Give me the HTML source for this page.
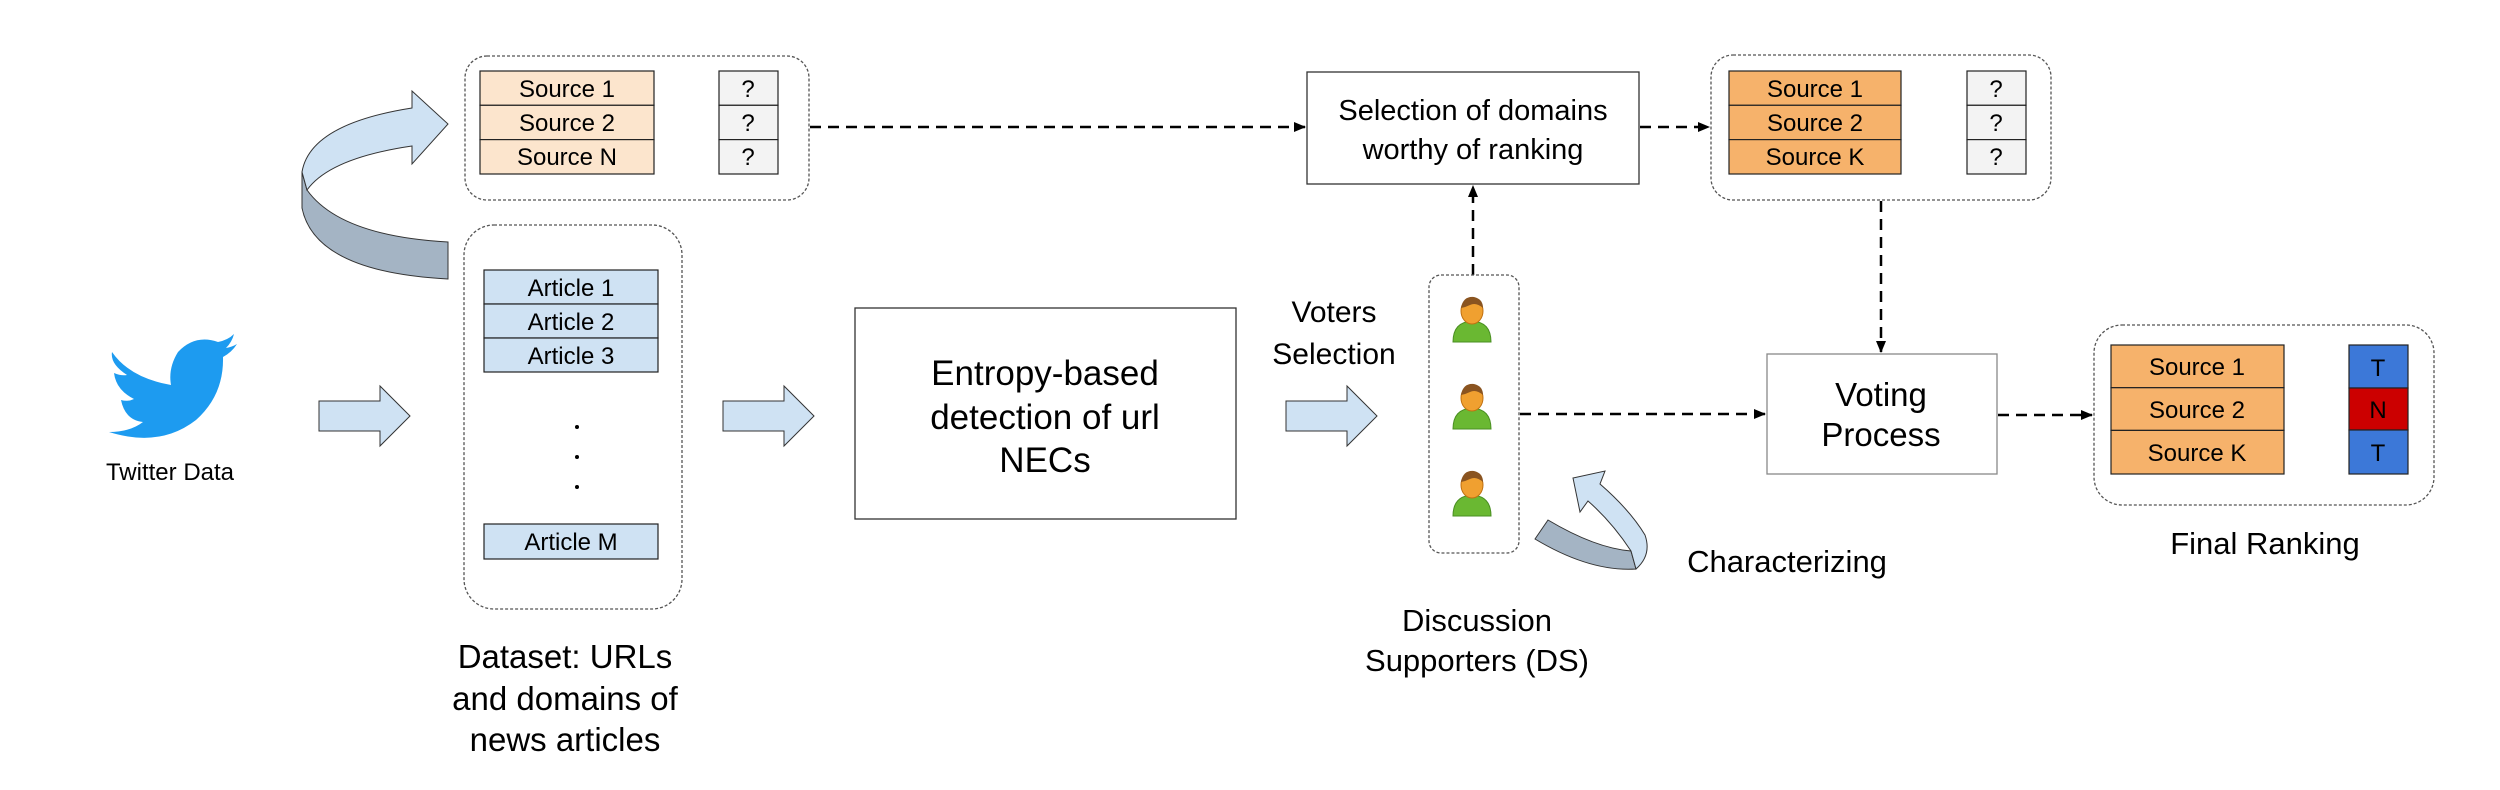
<!DOCTYPE html>
<html><head><meta charset="utf-8"><style>
html,body{margin:0;padding:0;background:#fff}
svg{display:block}
text{font-family:"Liberation Sans",Arial,sans-serif;fill:#000}
</style></head><body>
<svg width="2500" height="790" viewBox="0 0 2500 790" xmlns="http://www.w3.org/2000/svg">
<defs>
<marker id="ah" markerWidth="12" markerHeight="10" refX="11" refY="5" orient="auto" markerUnits="userSpaceOnUse">
<path d="M0,0 L12,5 L0,10 Z" fill="#000"/></marker>
<g id="person">
<path d="M-19,22 Q-19,2 0,1 Q19,2 19,22 Z" fill="#6ab832" stroke="#4a8f22" stroke-width="1"/>
<ellipse cx="0" cy="-9" rx="11" ry="13" fill="#f0a030" stroke="#c07010" stroke-width="1"/>
<path d="M-11,-12 Q-9,-24 2,-23 Q11,-21 11,-12 Q4,-18 -2,-15 Q-6,-13 -11,-12 Z" fill="#8a5420"/>
</g>
</defs>

<!-- Twitter bird -->
<path d="M112,352 Q130,378 171,385 Q168,368 178,352 Q195,334 218,342 Q228,340 234,334 Q232,342 226,348 Q232,347 237,344 Q232,352 223,357 Q224,395 196,420 Q160,448 109,432 Q130,432 143,422 Q125,420 121,400 Q128,402 134,399 Q116,390 114,373 Q121,376 127,375 Q110,364 112,352 Z" fill="#1d9bf0"/>
<text x="170" y="480" font-size="24" text-anchor="middle">Twitter Data</text>

<!-- block arrows -->
<path d="M319,401 L380,401 L380,386 L410,416 L380,446 L380,431 L319,431 Z" fill="#cfe2f3" stroke="#333" stroke-width="1"/>
<path d="M723,401 L784,401 L784,386 L814,416 L784,446 L784,431 L723,431 Z" fill="#cfe2f3" stroke="#333" stroke-width="1"/>
<path d="M1286,401 L1347,401 L1347,386 L1377,416 L1347,446 L1347,431 L1286,431 Z" fill="#cfe2f3" stroke="#333" stroke-width="1"/>

<!-- big curved arrow -->
<path d="M448,242 Q340,236 307,190 L302,172 L302,208 Q315,272 448,279 Z" fill="#a4b4c4" stroke="#333" stroke-width="1"/>
<path d="M302,172 Q310,124 412,108 L412,91 L448,124 L412,164 L412,146 Q330,158 307,190 Z" fill="#cfe2f3" stroke="#333" stroke-width="1"/>

<!-- top-left container -->
<rect x="465" y="56" width="344" height="144" rx="22" fill="none" stroke="#555" stroke-width="1.3" stroke-dasharray="3,2"/>
<g stroke="#222" stroke-width="1.2">
<rect x="480" y="71" width="174" height="34.3" fill="#fce5cd"/>
<rect x="480" y="105.3" width="174" height="34.3" fill="#fce5cd"/>
<rect x="480" y="139.6" width="174" height="34.4" fill="#fce5cd"/>
<rect x="719" y="71" width="59" height="34.3" fill="#f3f3f3"/>
<rect x="719" y="105.3" width="59" height="34.3" fill="#f3f3f3"/>
<rect x="719" y="139.6" width="59" height="34.4" fill="#f3f3f3"/>
</g>
<g font-size="24" text-anchor="middle">
<text x="567" y="97">Source 1</text><text x="567" y="131">Source 2</text><text x="567" y="165">Source N</text>
<text x="748" y="97">?</text><text x="748" y="131">?</text><text x="748" y="165">?</text>
</g>

<!-- articles container -->
<rect x="464" y="225" width="218" height="384" rx="30" fill="none" stroke="#555" stroke-width="1.3" stroke-dasharray="3,2"/>
<g stroke="#222" stroke-width="1.2" fill="#cfe2f3">
<rect x="484" y="270" width="174" height="34"/>
<rect x="484" y="304" width="174" height="34"/>
<rect x="484" y="338" width="174" height="34"/>
<rect x="484" y="524" width="174" height="35"/>
</g>
<g font-size="24" text-anchor="middle">
<text x="571" y="296">Article 1</text><text x="571" y="330">Article 2</text><text x="571" y="364">Article 3</text>
<text x="571" y="550">Article M</text>
</g>
<circle cx="577" cy="427" r="2" fill="#000"/><circle cx="577" cy="457" r="2" fill="#000"/><circle cx="577" cy="487" r="2" fill="#000"/>
<g font-size="33" text-anchor="middle">
<text x="565" y="668">Dataset: URLs</text><text x="565" y="710">and domains of</text><text x="565" y="751">news articles</text>
</g>

<!-- entropy box -->
<rect x="855" y="308" width="381" height="211" fill="#fff" stroke="#333" stroke-width="1.3"/>
<g font-size="35" text-anchor="middle">
<text x="1045" y="385">Entropy-based</text><text x="1045" y="429">detection of url</text><text x="1045" y="472">NECs</text>
</g>
<g font-size="30" text-anchor="middle"><text x="1334" y="322">Voters</text><text x="1334" y="364">Selection</text></g>

<!-- selection box -->
<rect x="1307" y="72" width="332" height="112" fill="#fff" stroke="#333" stroke-width="1.3"/>
<g font-size="29" text-anchor="middle"><text x="1473" y="120">Selection of domains</text><text x="1473" y="159">worthy of ranking</text></g>

<!-- dashed connectors -->
<g stroke="#000" stroke-width="2.5" stroke-dasharray="11,7" fill="none">
<line x1="810" y1="127" x2="1305" y2="127" marker-end="url(#ah)"/>
<line x1="1640" y1="127" x2="1709" y2="127" marker-end="url(#ah)"/>
<line x1="1473" y1="275" x2="1473" y2="186" marker-end="url(#ah)"/>
<line x1="1881" y1="201" x2="1881" y2="352" marker-end="url(#ah)"/>
<line x1="1520" y1="414" x2="1765" y2="414" marker-end="url(#ah)"/>
<line x1="1998" y1="415" x2="2092" y2="415" marker-end="url(#ah)"/>
</g>

<!-- DS container -->
<rect x="1429" y="275" width="90" height="278" rx="12" fill="none" stroke="#555" stroke-width="1.3" stroke-dasharray="3,2"/>
<use href="#person" x="1472" y="320"/>
<use href="#person" x="1472" y="407"/>
<use href="#person" x="1472" y="494"/>
<g font-size="31" text-anchor="middle"><text x="1477" y="631">Discussion</text><text x="1477" y="671">Supporters (DS)</text></g>

<!-- small curved arrow -->
<path d="M1535,539 L1548,520 Q1595,548 1631,551 L1636,569 Q1590,572 1535,539 Z" fill="#a4b4c4" stroke="#333" stroke-width="1"/>
<path d="M1636,569 Q1652,555 1645,535 Q1630,510 1600,484 L1605,471 L1573,478 L1580,512 L1588,501 Q1612,522 1631,551 Z" fill="#cfe2f3" stroke="#333" stroke-width="1"/>
<text x="1787" y="572" font-size="31" text-anchor="middle">Characterizing</text>

<!-- top-right container -->
<rect x="1711" y="55" width="340" height="145" rx="22" fill="none" stroke="#555" stroke-width="1.3" stroke-dasharray="3,2"/>
<g stroke="#222" stroke-width="1.2">
<rect x="1729" y="71" width="172" height="34.3" fill="#f6b26b"/>
<rect x="1729" y="105.3" width="172" height="34.3" fill="#f6b26b"/>
<rect x="1729" y="139.6" width="172" height="34.4" fill="#f6b26b"/>
<rect x="1967" y="71" width="59" height="34.3" fill="#f3f3f3"/>
<rect x="1967" y="105.3" width="59" height="34.3" fill="#f3f3f3"/>
<rect x="1967" y="139.6" width="59" height="34.4" fill="#f3f3f3"/>
</g>
<g font-size="24" text-anchor="middle">
<text x="1815" y="97">Source 1</text><text x="1815" y="131">Source 2</text><text x="1815" y="165">Source K</text>
<text x="1996" y="97">?</text><text x="1996" y="131">?</text><text x="1996" y="165">?</text>
</g>

<!-- voting box -->
<rect x="1767" y="354" width="230" height="120" fill="#fff" stroke="#888" stroke-width="1.3"/>
<g font-size="33" text-anchor="middle"><text x="1881" y="406">Voting</text><text x="1881" y="446">Process</text></g>

<!-- final container -->
<rect x="2094" y="325" width="340" height="180" rx="28" fill="none" stroke="#555" stroke-width="1.3" stroke-dasharray="3,2"/>
<g stroke="#222" stroke-width="1.2">
<rect x="2111" y="345" width="173" height="42.7" fill="#f6b26b"/>
<rect x="2111" y="387.7" width="173" height="42.7" fill="#f6b26b"/>
<rect x="2111" y="430.4" width="173" height="43.6" fill="#f6b26b"/>
<rect x="2349" y="345" width="59" height="43" fill="#3c78d8"/>
<rect x="2349" y="388" width="59" height="42" fill="#cc0000"/>
<rect x="2349" y="430" width="59" height="44" fill="#3c78d8"/>
</g>
<g font-size="24" text-anchor="middle">
<text x="2197" y="375">Source 1</text><text x="2197" y="418">Source 2</text><text x="2197" y="461">Source K</text>
<text x="2378" y="376">T</text><text x="2378" y="418">N</text><text x="2378" y="461">T</text>
</g>
<text x="2265" y="554" font-size="31" text-anchor="middle">Final Ranking</text>
</svg>
</body></html>
